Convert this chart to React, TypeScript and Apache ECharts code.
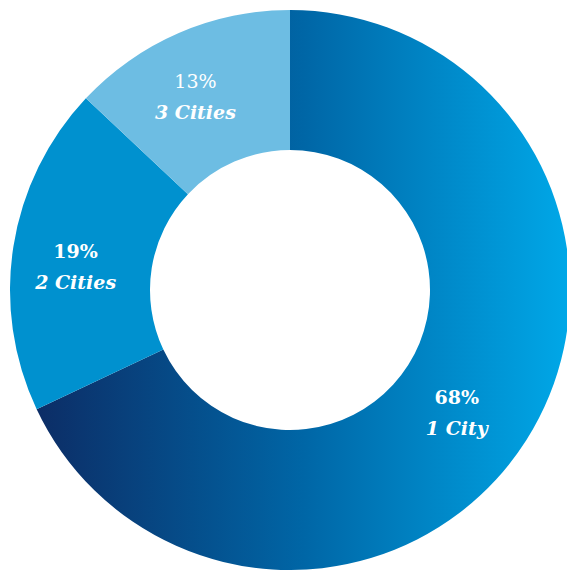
import React, { useEffect, useRef } from "react";
import * as echarts from "echarts";

const categories = ["1 City", "2 Cities", "3 Cities"];
const values = [68, 19, 13];

export default function App() {
  const ref = useRef<HTMLDivElement>(null);
  useEffect(() => {
    if (!ref.current) return;
    const chart = echarts.init(ref.current, null, { renderer: "svg" });
    const colors: any[] = [
      new echarts.graphic.LinearGradient(0, 0, 1, 0, [
        { offset: 0, color: "#0c2d66" },
        { offset: 0.5, color: "#0066a6" },
        { offset: 1, color: "#00a8e8" },
      ]),
      "#0091cf",
      "#6dbde3",
    ];
    const offsets = [
      [-13, 8],
      [-4, 10],
      [-10, 2],
    ];
    const font = "'DejaVu Serif', 'Liberation Serif', serif";
    chart.setOption({
      animation: false,
      series: [
        {
          type: "pie",
          center: [290, 290],
          radius: [140, 280],
          startAngle: 90,
          clockwise: true,
          avoidLabelOverlap: false,
          itemStyle: { borderWidth: 0 },
          emphasis: { disabled: true },
          label: {
            show: true,
            position: "inside",
            color: "#fff",
            formatter: (p: any) =>
              (p.dataIndex === 2 ? "{pr|" : "{p|") + p.value + "%}\n{n|" + p.name + "}",
            rich: {
              p: { fontFamily: font, fontSize: 19, fontWeight: "bold", color: "#fff", lineHeight: 31 },
              pr: { fontFamily: font, fontSize: 19, fontWeight: "normal", color: "#fff", lineHeight: 31 },
              n: { fontFamily: font, fontSize: 19, fontWeight: "bold", fontStyle: "italic", color: "#fff", lineHeight: 31 },
            },
          },
          labelLine: { show: false },
          data: categories.map((name, i) => ({
            name,
            value: values[i],
            itemStyle: { color: colors[i] },
            label: { offset: offsets[i] },
          })),
        },
      ],
    });
    return () => chart.dispose();
  }, []);
  return (
    <div
      ref={ref}
      style={{ position: "absolute", left: 0, top: 0, width: 567, height: 570 }}
    />
  );
}
